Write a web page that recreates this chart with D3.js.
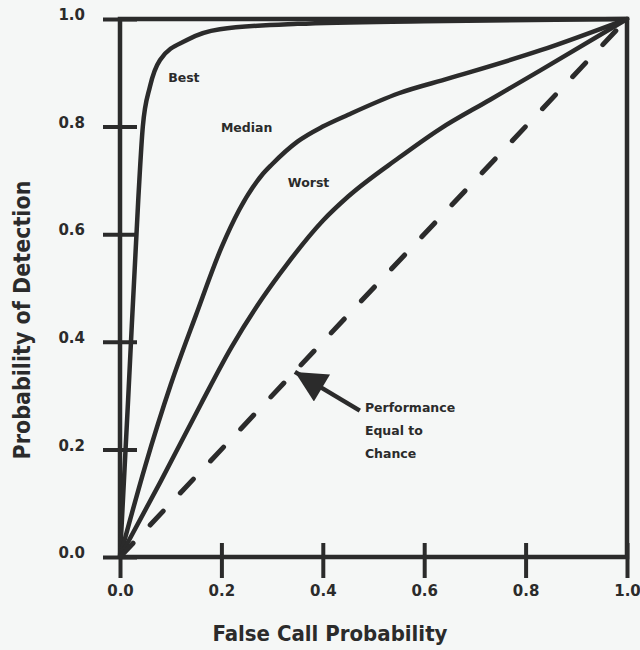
<!DOCTYPE html>
<html>
<head>
<meta charset="utf-8">
<script src="https://cdn.jsdelivr.net/npm/d3@7"></script>
<style>
  body { margin: 0; background: #f5f7f6; }
  svg { display: block; }
  .tick text { font-family: "DejaVu Sans", sans-serif; font-weight: bold; font-size: 15px; fill: #2b2b2b; }
</style>
</head>
<body>
<div id="chart"></div>
<script>
// ROC curves (false call prob, prob of detection)
var bestX   = [0, 0.016, 0.036, 0.045, 0.059, 0.079, 0.132, 0.197, 0.35, 0.6, 1.0];
var bestY   = [0, 0.292, 0.664, 0.800, 0.874, 0.924, 0.961, 0.981, 0.991, 0.996, 1.0];
var medianX = [0, 0.05, 0.10, 0.15, 0.20, 0.235, 0.28, 0.30, 0.35, 0.40, 0.45, 0.55, 0.65, 0.83, 1.0];
var medianY = [0, 0.17, 0.32, 0.45, 0.575, 0.645, 0.71, 0.73, 0.772, 0.80, 0.822, 0.862, 0.89, 0.942, 1.0];
var worstX  = [0, 0.08, 0.16, 0.22, 0.28, 0.33, 0.40, 0.45, 0.55, 0.63, 0.73, 0.83, 1.0];
var worstY  = [0, 0.14, 0.285, 0.39, 0.48, 0.545, 0.625, 0.67, 0.742, 0.795, 0.85, 0.905, 1.0];
var chanceX = [0, 1];
var chanceY = [0, 1];
var tickValues = [0, 0.2, 0.4, 0.6, 0.8, 1.0];

// curve labels: text and anchor point in data units
var curveLabels = [
  {text: "Best",   x: 0.095, y: 0.883},
  {text: "Median", x: 0.199, y: 0.790},
  {text: "Worst",  x: 0.331, y: 0.688}
];
var noteLines = ["Performance", "Equal to", "Chance"];
var noteAt = {x: 0.483, y: 0.270};
var arrowFrom = {x: 0.473, y: 0.272};
var arrowTo   = {x: 0.345, y: 0.344};

var width = 640, height = 650;
var ink = "#2b2b2b";

var svg = d3.select("#chart").append("svg")
    .attr("width", width)
    .attr("height", height);

var x = d3.scaleLinear().domain([0, 1]).range([120, 627]);
var y = d3.scaleLinear().domain([0, 1]).range([557, 19]);

// X axis, ticks cross the axis line
var xAxis = svg.append("g")
    .attr("transform", "translate(0," + y(0) + ")")
    .call(d3.axisBottom(x).tickValues(tickValues).tickFormat(d3.format(".1f")).tickSize(21));
xAxis.select(".domain").remove();
xAxis.selectAll(".tick line")
    .attr("y1", -14)
    .attr("stroke", ink)
    .attr("stroke-width", 4);
xAxis.selectAll(".tick text").attr("y", 28);

// Y axis
var yAxis = svg.append("g")
    .attr("transform", "translate(" + x(0) + ",0)")
    .call(d3.axisLeft(y).tickValues(tickValues).tickFormat(d3.format(".1f")).tickSize(17).tickPadding(18));
yAxis.select(".domain").remove();
yAxis.selectAll(".tick line")
    .attr("x1", -17)
    .attr("x2", 17)
    .attr("stroke", ink)
    .attr("stroke-width", 4);
yAxis.selectAll(".tick text").attr("dy", "0.05em");

// frame: left, bottom, top, right
svg.append("path")
    .attr("d", "M" + x(0) + "," + y(0) + "V" + y(1) + "H" + x(1) + "V" + y(0) + "H" + x(0))
    .attr("fill", "none")
    .attr("stroke", ink)
    .attr("stroke-width", 4.5)
    .attr("stroke-linejoin", "miter");

var line = d3.line()
    .x(function(d) { return x(d[0]); })
    .y(function(d) { return y(d[1]); })
    .curve(d3.curveMonotoneX);

function zipXY(xs, ys) { return xs.map(function(v, i) { return [v, ys[i]]; }); }

[[bestX, bestY], [medianX, medianY], [worstX, worstY]].forEach(function(s) {
  svg.append("path")
      .datum(zipXY(s[0], s[1]))
      .attr("d", line)
      .attr("fill", "none")
      .attr("stroke", ink)
      .attr("stroke-width", 4.5)
      .attr("stroke-linejoin", "round")
      .attr("stroke-linecap", "round");
});

// chance diagonal
svg.append("path")
    .datum(zipXY(chanceX, chanceY))
    .attr("d", d3.line().x(function(d) { return x(d[0]); }).y(function(d) { return y(d[1]); }))
    .attr("fill", "none")
    .attr("stroke", ink)
    .attr("stroke-width", 5)
    .attr("stroke-linecap", "round")
    .attr("stroke-dasharray", "19,25");

// curve labels
svg.selectAll(".clabel")
    .data(curveLabels)
    .enter().append("text")
    .attr("class", "clabel")
    .attr("x", function(d) { return x(d.x); })
    .attr("y", function(d) { return y(d.y); })
    .attr("font-family", "DejaVu Sans, sans-serif")
    .attr("font-weight", "bold")
    .attr("font-size", 12.5)
    .attr("fill", ink)
    .text(function(d) { return d.text; });

// arrow to the diagonal
svg.append("defs").append("marker")
    .attr("id", "head")
    .attr("viewBox", "0 0 10 10")
    .attr("refX", 10).attr("refY", 5)
    .attr("markerWidth", 7.5).attr("markerHeight", 7)
    .attr("markerUnits", "strokeWidth")
    .attr("orient", "auto")
  .append("path")
    .attr("d", "M0,0L10,5L0,10Z")
    .attr("fill", ink);

svg.append("line")
    .attr("x1", x(arrowFrom.x)).attr("y1", y(arrowFrom.y))
    .attr("x2", x(arrowTo.x)).attr("y2", y(arrowTo.y))
    .attr("stroke", ink)
    .attr("stroke-width", 4.5)
    .attr("marker-end", "url(#head)");

svg.append("text")
    .attr("x", x(noteAt.x))
    .attr("y", y(noteAt.y))
    .attr("font-family", "DejaVu Sans, sans-serif")
    .attr("font-weight", "bold")
    .attr("font-size", 12.5)
    .attr("fill", ink)
  .selectAll("tspan")
    .data(noteLines)
    .enter().append("tspan")
    .attr("x", x(noteAt.x))
    .attr("dy", function(d, i) { return i === 0 ? 0 : 23; })
    .text(function(d) { return d; });

// axis titles
svg.append("text")
    .attr("x", 330)
    .attr("y", 641)
    .attr("text-anchor", "middle")
    .attr("font-family", "DejaVu Sans Condensed, DejaVu Sans, sans-serif")
    .attr("font-weight", "bold")
    .attr("font-size", 22)
    .attr("fill", ink)
    .text("False Call Probability");

svg.append("text")
    .attr("transform", "translate(30,320) rotate(-90)")
    .attr("text-anchor", "middle")
    .attr("font-family", "DejaVu Sans Condensed, DejaVu Sans, sans-serif")
    .attr("font-weight", "bold")
    .attr("font-size", 23)
    .attr("fill", ink)
    .text("Probability of Detection");
</script>
</body>
</html>
